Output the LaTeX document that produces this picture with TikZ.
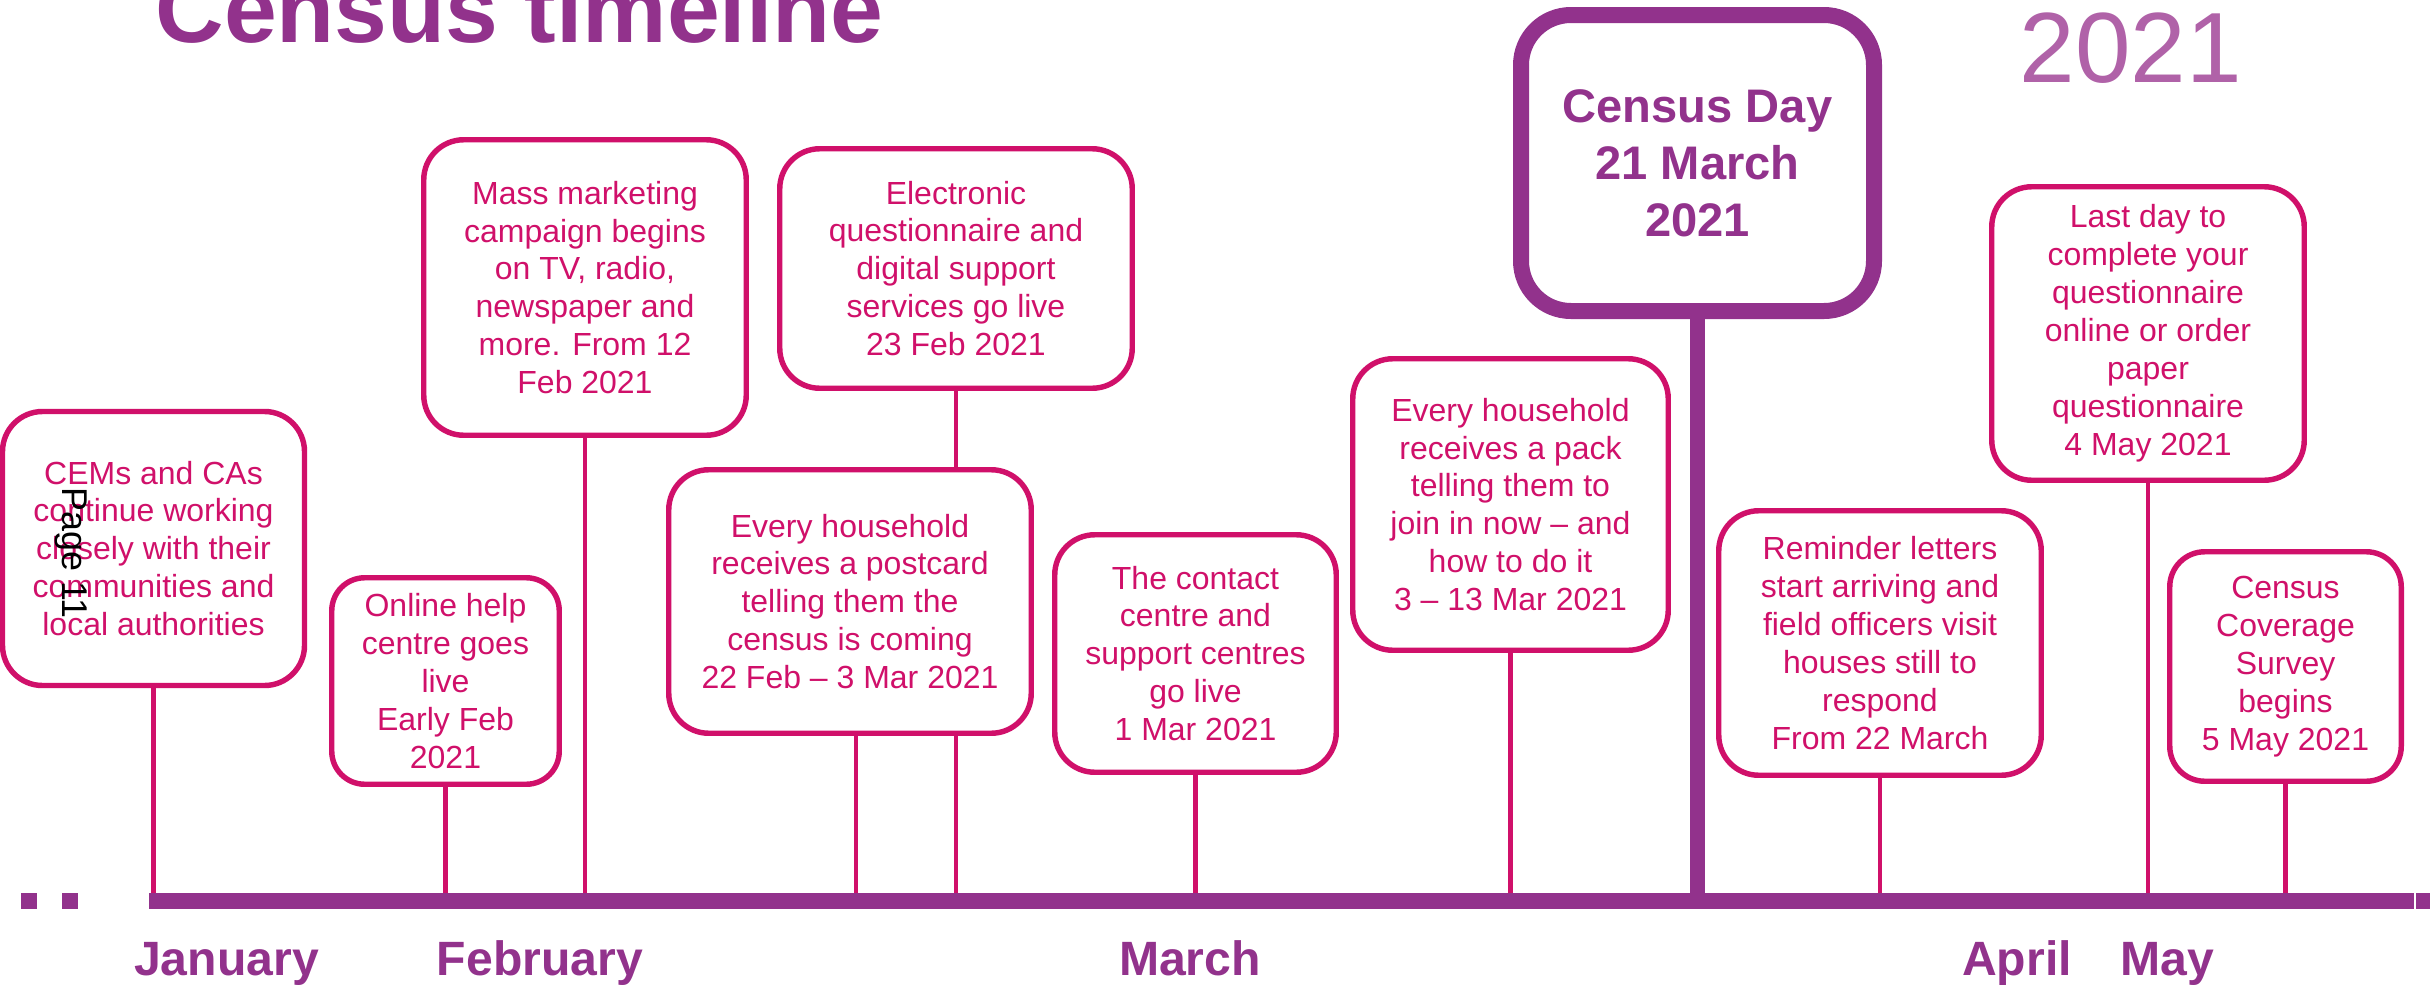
\documentclass[tikz,border=0pt]{standalone}
\usepackage{fontspec}
\setmainfont{Liberation Sans}
\usetikzlibrary{calc}
\definecolor{cpink}{RGB}{208,16,106}
\definecolor{cpurple}{RGB}{146,50,140}
\definecolor{clilac}{RGB}{176,98,168}

\begin{document}
\begin{tikzpicture}[
  event/.style={draw=cpink, line width=1.55pt, fill=white, rounded corners=0.4cm, text=cpink,
    align=center, inner sep=0pt, font=\fontsize{9.1}{10.8}\selectfont},
  stem/.style={draw=cpink, line width=1.4pt},
  month/.style={text=cpurple, anchor=base, inner sep=0pt, font=\fontsize{13.7}{16}\selectfont\bfseries}
]
  \useasboundingbox (0,0) rectangle (24.30cm,-9.84cm);
  \coordinate [] (tl) at (0cm,-8.93cm);

  \node [anchor=base west, inner sep=0pt, text=cpurple, font=\fontsize{27}{32}\selectfont\bfseries] (title) at (1.55cm,-0.42cm) {Census timeline};
  \node [anchor=base, inner sep=0pt, text=clilac, font=\fontsize{28.4}{34}\selectfont] (year) at (21.31cm,-0.82cm) {2021};

  \node [event, minimum width=3.02cm, minimum height=2.74cm] (cems) at (1.535cm,-5.485cm) {CEMs and CAs\\continue working\\closely with their\\communities and\\local authorities};
  \draw [stem] (cems.south) -- (cems.south |- tl);
  \node [rotate=-90, inner sep=0pt, font=\fontsize{10.2}{12}\selectfont] (page) at (0.71cm,-5.53cm) {Page 11};

  \node [event, rounded corners=0.33cm, minimum width=2.275cm, minimum height=2.065cm] (online) at (4.455cm,-6.81cm) {Online help\\centre goes\\live\\Early Feb\\2021};
  \draw [stem] (online.south) -- (online.south |- tl);

  \node [event, minimum width=3.225cm, minimum height=2.955cm] (mass) at (5.85cm,-2.875cm) {Mass marketing\\campaign begins\\on TV, radio,\\newspaper and\\more. From 12\\Feb 2021};
  \draw [stem] (mass.south) -- (mass.south |- tl);

  \node [event, minimum width=3.525cm, minimum height=2.395cm] (elec) at (9.56cm,-2.685cm) {Electronic\\questionnaire and\\digital support\\services go live\\23 Feb 2021};
  \draw [stem] (elec.south) -- (elec.south |- tl);

  \node [event, minimum width=3.625cm, minimum height=2.635cm] (post) at (8.50cm,-6.015cm) {Every household\\receives a postcard\\telling them the\\census is coming\\22 Feb -- 3 Mar 2021};
  \coordinate [] (ps) at ($(post.south)+(0.06cm,0)$);
  \draw [stem] (ps) -- (ps |- tl);

  \node [event, minimum width=2.815cm, minimum height=2.375cm] (contact) at (11.955cm,-6.535cm) {The contact\\centre and\\support centres\\go live\\1 Mar 2021};
  \draw [stem] (contact.south) -- (contact.south |- tl);

  \node [event, minimum width=3.155cm, minimum height=2.915cm] (pack) at (15.105cm,-5.045cm) {Every household\\receives a pack\\telling them to\\join in now -- and\\how to do it\\3 -- 13 Mar 2021};
  \draw [stem] (pack.south) -- (pack.south |- tl);

  \node [draw=cpurple, line width=0.16cm, fill=white, rounded corners=0.5cm, text=cpurple, align=center, inner sep=0pt,
    font=\fontsize{13.4}{16.2}\selectfont\bfseries, minimum width=3.53cm, minimum height=2.96cm] (cday) at (16.975cm,-1.63cm) {Census Day\\21 March\\2021};
  \draw [cpurple, line width=0.15cm] (cday.south) -- (cday.south |- tl);

  \node [event, minimum width=3.125cm, minimum height=2.935cm] (last) at (21.48cm,-3.335cm) {Last day to\\complete your\\questionnaire\\online or order\\paper\\questionnaire\\4 May 2021};
  \draw [stem] (last.south) -- (last.south |- tl);

  \node [event, minimum width=3.225cm, minimum height=2.645cm] (remind) at (18.80cm,-6.43cm) {Reminder letters\\start arriving and\\field officers visit\\houses still to\\respond\\From 22 March};
  \draw [stem] (remind.south) -- (remind.south |- tl);

  \node [event, rounded corners=0.35cm, minimum width=2.315cm, minimum height=2.295cm] (cover) at (22.855cm,-6.665cm) {Census\\Coverage\\Survey\\begins\\5 May 2021};
  \draw [stem] (cover.south) -- (cover.south |- tl);

  \fill [cpurple] (1.49cm,-8.93cm) rectangle (24.14cm,-9.09cm);
  \fill [cpurple] (24.16cm,-8.93cm) rectangle (24.30cm,-9.09cm);
  \fill [cpurple] (0.21cm,-8.93cm) rectangle (0.37cm,-9.09cm);
  \fill [cpurple] (0.62cm,-8.93cm) rectangle (0.78cm,-9.09cm);

  \node [month] (jan) at (2.265cm,-9.75cm) {January};
  \node [month] (feb) at (5.40cm,-9.75cm) {February};
  \node [month] (mar) at (11.90cm,-9.75cm) {March};
  \node [month] (apr) at (20.17cm,-9.75cm) {April};
  \node [month] (may) at (21.67cm,-9.75cm) {May};
\end{tikzpicture}
\end{document}
